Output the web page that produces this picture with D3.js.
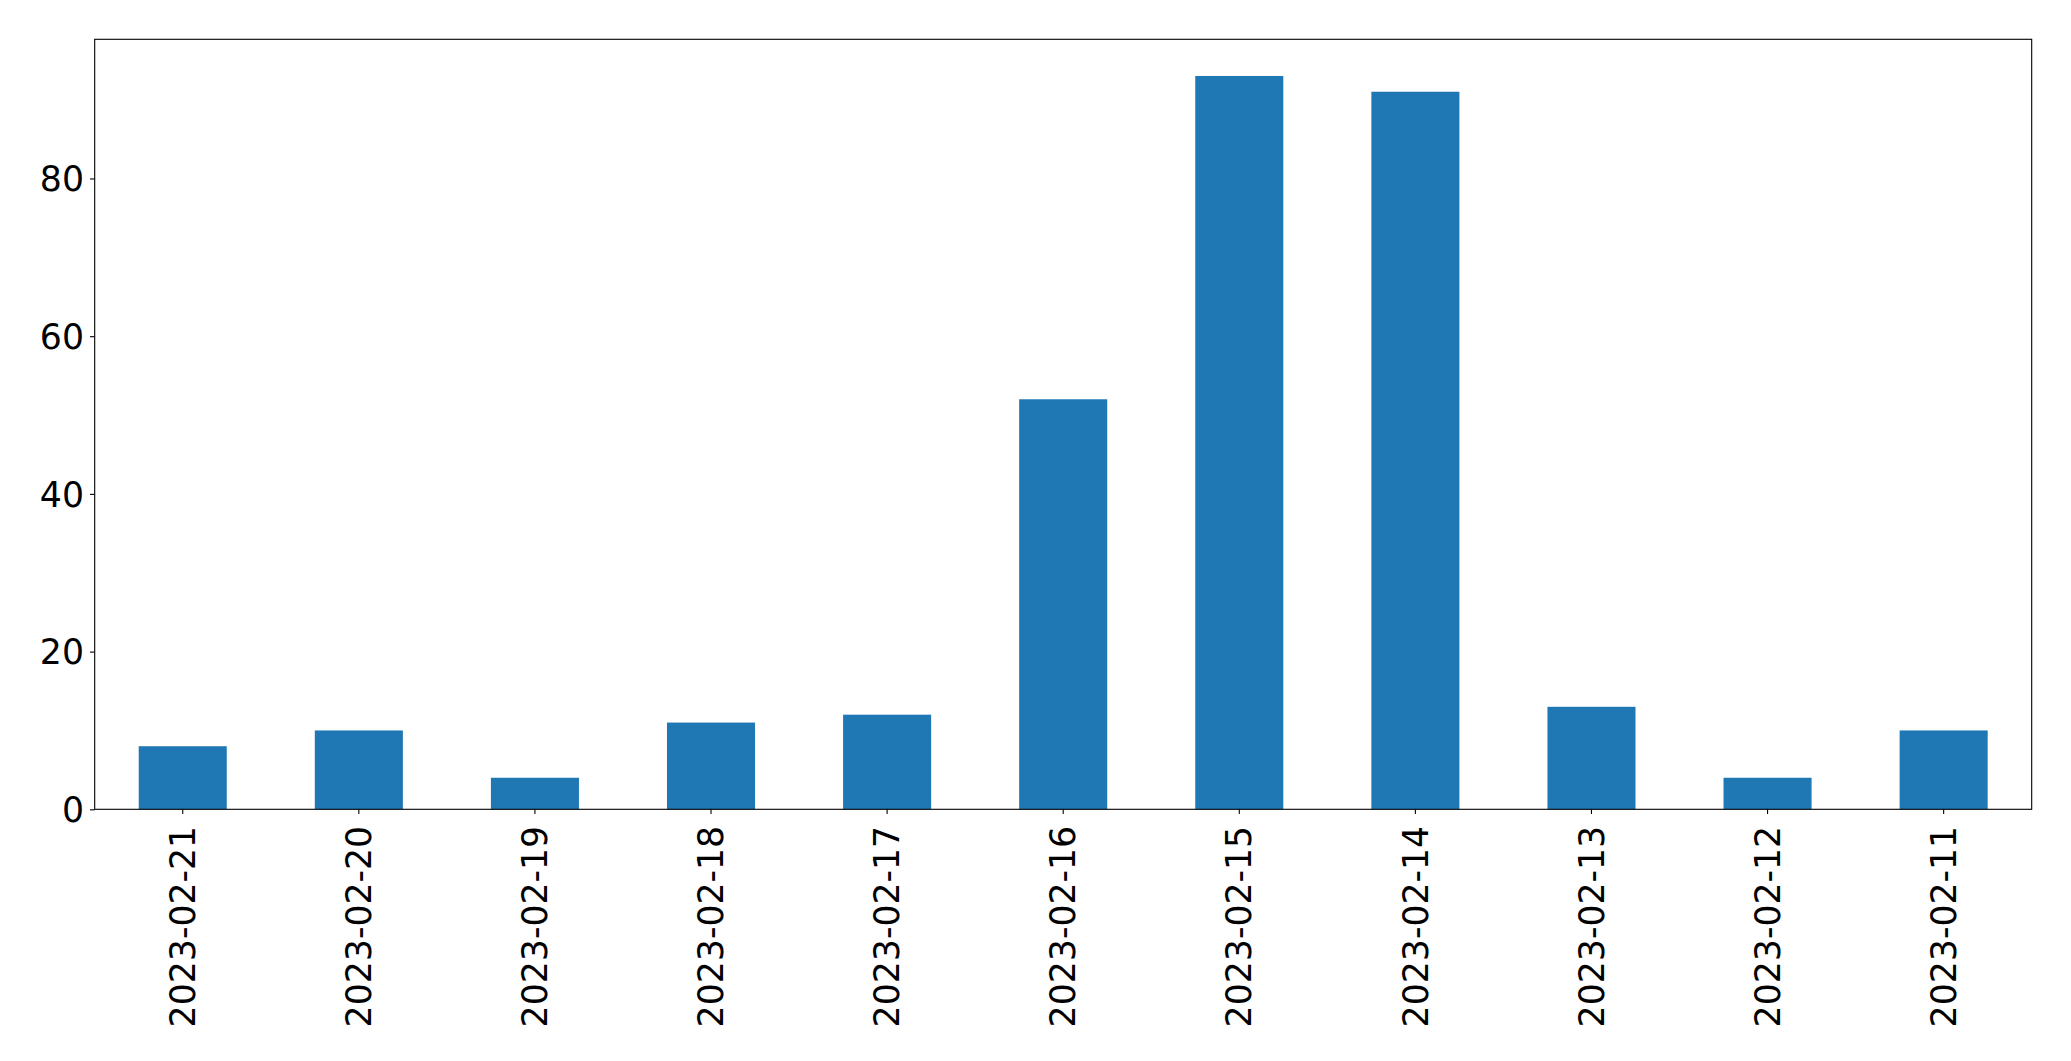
<!DOCTYPE html>
<html>
<head>
<meta charset="utf-8">
<script src="https://cdn.jsdelivr.net/npm/d3@7"></script>
<style>
html,body{margin:0;padding:0;background:#fff;}
svg{display:block;}
</style>
</head>
<body>
<svg id="chart" width="2071" height="1061"></svg>
<script>
const categories = ["2023-02-21","2023-02-20","2023-02-19","2023-02-18","2023-02-17","2023-02-16","2023-02-15","2023-02-14","2023-02-13","2023-02-12","2023-02-11"];
const values = [8, 10, 4, 11, 12, 52, 93, 91, 13, 4, 10];
const yTicks = [0, 20, 40, 60, 80];

(function () {
const mLeft = 94.7, mRight = 2031.7, mTop = 39.3, mBottom = 809.3;
const svg = d3.select("#chart");
const font = "'DejaVu Sans', sans-serif";
const fs = 34.7;

const x = d3.scaleBand().domain(categories).range([mLeft, mRight]).paddingInner(0.5).paddingOuter(0.25);
const yMax = d3.max(values) * 1.05;
const y = d3.scaleLinear().domain([0, yMax]).range([mBottom, mTop]);

svg.append("g").selectAll("rect").data(values).join("rect")
  .attr("x", (d, i) => x(categories[i]))
  .attr("y", d => y(d))
  .attr("width", x.bandwidth())
  .attr("height", d => y(0) - y(d))
  .attr("fill", "#1f77b4");

const yAxis = svg.append("g").attr("transform", `translate(${mLeft},0)`)
  .call(d3.axisLeft(y).tickValues(yTicks).tickSize(4.7).tickPadding(6).tickFormat(d3.format("d")));
yAxis.select(".domain").remove();
yAxis.selectAll("line").attr("stroke", "#000").attr("stroke-width", 1.1);
yAxis.selectAll("text").attr("font-family", font).attr("font-size", fs).attr("fill", "#000").attr("dy", "0.35em");

const xAxis = svg.append("g").attr("transform", `translate(0,${mBottom})`)
  .call(d3.axisBottom(x).tickSize(4.7).tickPadding(6));
xAxis.select(".domain").remove();
xAxis.selectAll("line").attr("stroke", "#000").attr("stroke-width", 1.1);
xAxis.selectAll("text")
  .attr("font-family", font).attr("font-size", fs).attr("fill", "#000")
  .attr("transform", "rotate(-90)")
  .attr("text-anchor", "end")
  .attr("x", -16.5).attr("y", 0).attr("dy", "0.35em");

svg.append("rect").attr("x", mLeft).attr("y", mTop).attr("width", mRight - mLeft).attr("height", mBottom - mTop)
  .attr("fill", "none").attr("stroke", "#000").attr("stroke-width", 1.1);
})();
</script>
</body>
</html>
